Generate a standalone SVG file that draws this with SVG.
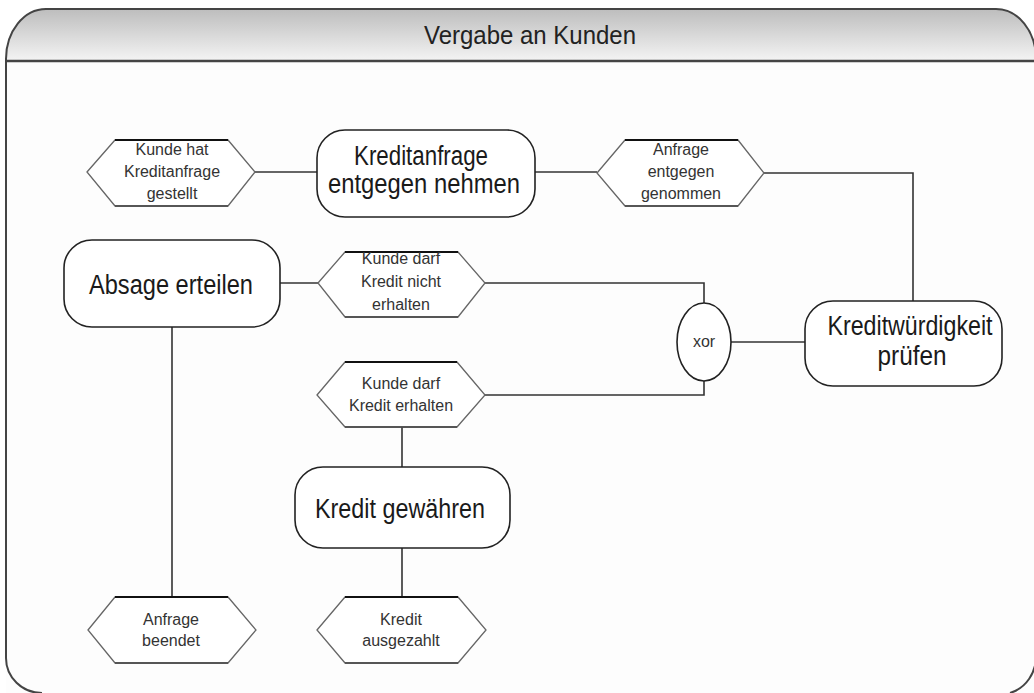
<svg xmlns="http://www.w3.org/2000/svg" width="1034" height="693" viewBox="0 0 1034 693">
<defs>
<linearGradient id="hdr" x1="0" y1="0" x2="0" y2="1">
<stop offset="0" stop-color="#bdbdbd"/>
<stop offset="1" stop-color="#f4f4f4"/>
</linearGradient>
<style>
.fr{fill:#fff;stroke:#222;stroke-width:1.6}
.hx{fill:#fff;stroke:#666;stroke-width:1.3}
.hl{stroke:#111;stroke-width:1.8}
.hb{stroke:#444;stroke-width:1.6}
.cn{fill:none;stroke:#333;stroke-width:1.6}
.big{font-family:"Liberation Sans",Arial,sans-serif;font-size:27px;fill:#1a1a1a;text-anchor:middle}
.sm{font-family:"Liberation Sans",Arial,sans-serif;font-size:16px;fill:#333;text-anchor:middle}
.ttl{font-family:"Liberation Sans",Arial,sans-serif;font-size:26px;fill:#222;text-anchor:middle}
</style>
</defs>
<rect width="1034" height="693" fill="#fff"/>
<g id="frame">
<path d="M6,693 V59 A40,50 0 0 1 46,9 H996 A40,50 0 0 1 1036,59 V693" fill="#fdfdfd" stroke="none"/>
<path d="M6,59 A40,50 0 0 1 46,9 H996 A40,50 0 0 1 1036,59 V61 H6 Z" fill="url(#hdr)"/>
<path d="M6,658 V59 A40,50 0 0 1 46,9 H996 A40,50 0 0 1 1036,59 V655 A36,38 0 0 1 1010,693 M42,693 A36,35 0 0 1 6,658" fill="none" stroke="#444" stroke-width="2"/>
<line x1="6" y1="61" x2="1036" y2="61" stroke="#444" stroke-width="2.5"/>
<text class="ttl" x="530" y="44" textLength="212" lengthAdjust="spacingAndGlyphs">Vergabe an Kunden</text>
</g>
<g id="connectors">
<polyline class="cn" points="255,172 317,172"/>
<polyline class="cn" points="535,172 597,172"/>
<polyline class="cn" points="764,173 913,173 913,301"/>
<polyline class="cn" points="731,342 805,342"/>
<polyline class="cn" points="704,303 704,283 485,283"/>
<polyline class="cn" points="704,381 704,395 485,395"/>
<polyline class="cn" points="280,283 318,283"/>
<polyline class="cn" points="172,327 172,597"/>
<polyline class="cn" points="402,427 402,467"/>
<polyline class="cn" points="402,548 402,597"/>
</g>
<g id="e_kunde_hat">
<polygon class="hx" points="87,172 115,140 228,140 255,172 228,206 115,206"/>
<line class="hl" x1="115" y1="140" x2="228" y2="140"/><line class="hb" x1="115" y1="206" x2="228" y2="206"/>
<text class="sm" x="172" y="155">Kunde hat</text>
<text class="sm" x="172" y="177">Kreditanfrage</text>
<text class="sm" x="172" y="199">gestellt</text>
</g>
<g id="f_kreditanfrage">
<rect class="fr" x="317" y="130" width="218" height="87" rx="28" ry="28"/>
<text class="big" x="421" y="165" textLength="134" lengthAdjust="spacingAndGlyphs">Kreditanfrage</text>
<text class="big" x="424" y="193" textLength="192" lengthAdjust="spacingAndGlyphs">entgegen nehmen</text>
</g>
<g id="e_anfrage_entgegen">
<polygon class="hx" points="597,173 625,140 738,140 764,173 738,206 625,206"/>
<line class="hl" x1="625" y1="140" x2="738" y2="140"/><line class="hb" x1="625" y1="206" x2="738" y2="206"/>
<text class="sm" x="681" y="155">Anfrage</text>
<text class="sm" x="681" y="177">entgegen</text>
<text class="sm" x="681" y="199">genommen</text>
</g>
<g id="f_kreditwuerdigkeit">
<rect class="fr" x="805" y="301" width="197" height="85" rx="28" ry="28"/>
<text class="big" x="910" y="335" textLength="165" lengthAdjust="spacingAndGlyphs">Kreditwürdigkeit</text>
<text class="big" x="912" y="365" textLength="69" lengthAdjust="spacingAndGlyphs">prüfen</text>
</g>
<g id="xor">
<ellipse cx="704" cy="342" rx="27" ry="39" fill="#fff" stroke="#222" stroke-width="1.6"/>
<text class="sm" x="704" y="347" font-size="14">xor</text>
</g>
<g id="e_nicht_erhalten">
<polygon class="hx" points="318,283 345,252 458,252 485,283 458,317 345,317"/>
<line class="hl" x1="345" y1="252" x2="458" y2="252"/><line class="hb" x1="345" y1="317" x2="458" y2="317"/>
<text class="sm" x="401" y="264">Kunde darf</text>
<text class="sm" x="401" y="287">Kredit nicht</text>
<text class="sm" x="401" y="310">erhalten</text>
</g>
<g id="f_absage">
<rect class="fr" x="64" y="240" width="216" height="87" rx="28" ry="28"/>
<text class="big" x="171" y="294" textLength="164" lengthAdjust="spacingAndGlyphs">Absage erteilen</text>
</g>
<g id="e_erhalten">
<polygon class="hx" points="317,395 345,362 457,362 485,395 457,427 345,427"/>
<line class="hl" x1="345" y1="362" x2="457" y2="362"/><line class="hb" x1="345" y1="427" x2="457" y2="427"/>
<text class="sm" x="401" y="389">Kunde darf</text>
<text class="sm" x="401" y="411">Kredit erhalten</text>
</g>
<g id="f_kredit_gewaehren">
<rect class="fr" x="295" y="467" width="215" height="81" rx="28" ry="28"/>
<text class="big" x="400" y="518" textLength="170" lengthAdjust="spacingAndGlyphs">Kredit gewähren</text>
</g>
<g id="e_anfrage_beendet">
<polygon class="hx" points="88,630 115,597 228,597 256,630 228,663 115,663"/>
<line class="hl" x1="115" y1="597" x2="228" y2="597"/><line class="hb" x1="115" y1="663" x2="228" y2="663"/>
<text class="sm" x="171" y="625">Anfrage</text>
<text class="sm" x="171" y="646">beendet</text>
</g>
<g id="e_kredit_ausgezahlt">
<polygon class="hx" points="317,630 345,597 458,597 486,630 458,663 345,663"/>
<line class="hl" x1="345" y1="597" x2="458" y2="597"/><line class="hb" x1="345" y1="663" x2="458" y2="663"/>
<text class="sm" x="401" y="625">Kredit</text>
<text class="sm" x="401" y="646">ausgezahlt</text>
</g>
</svg>
